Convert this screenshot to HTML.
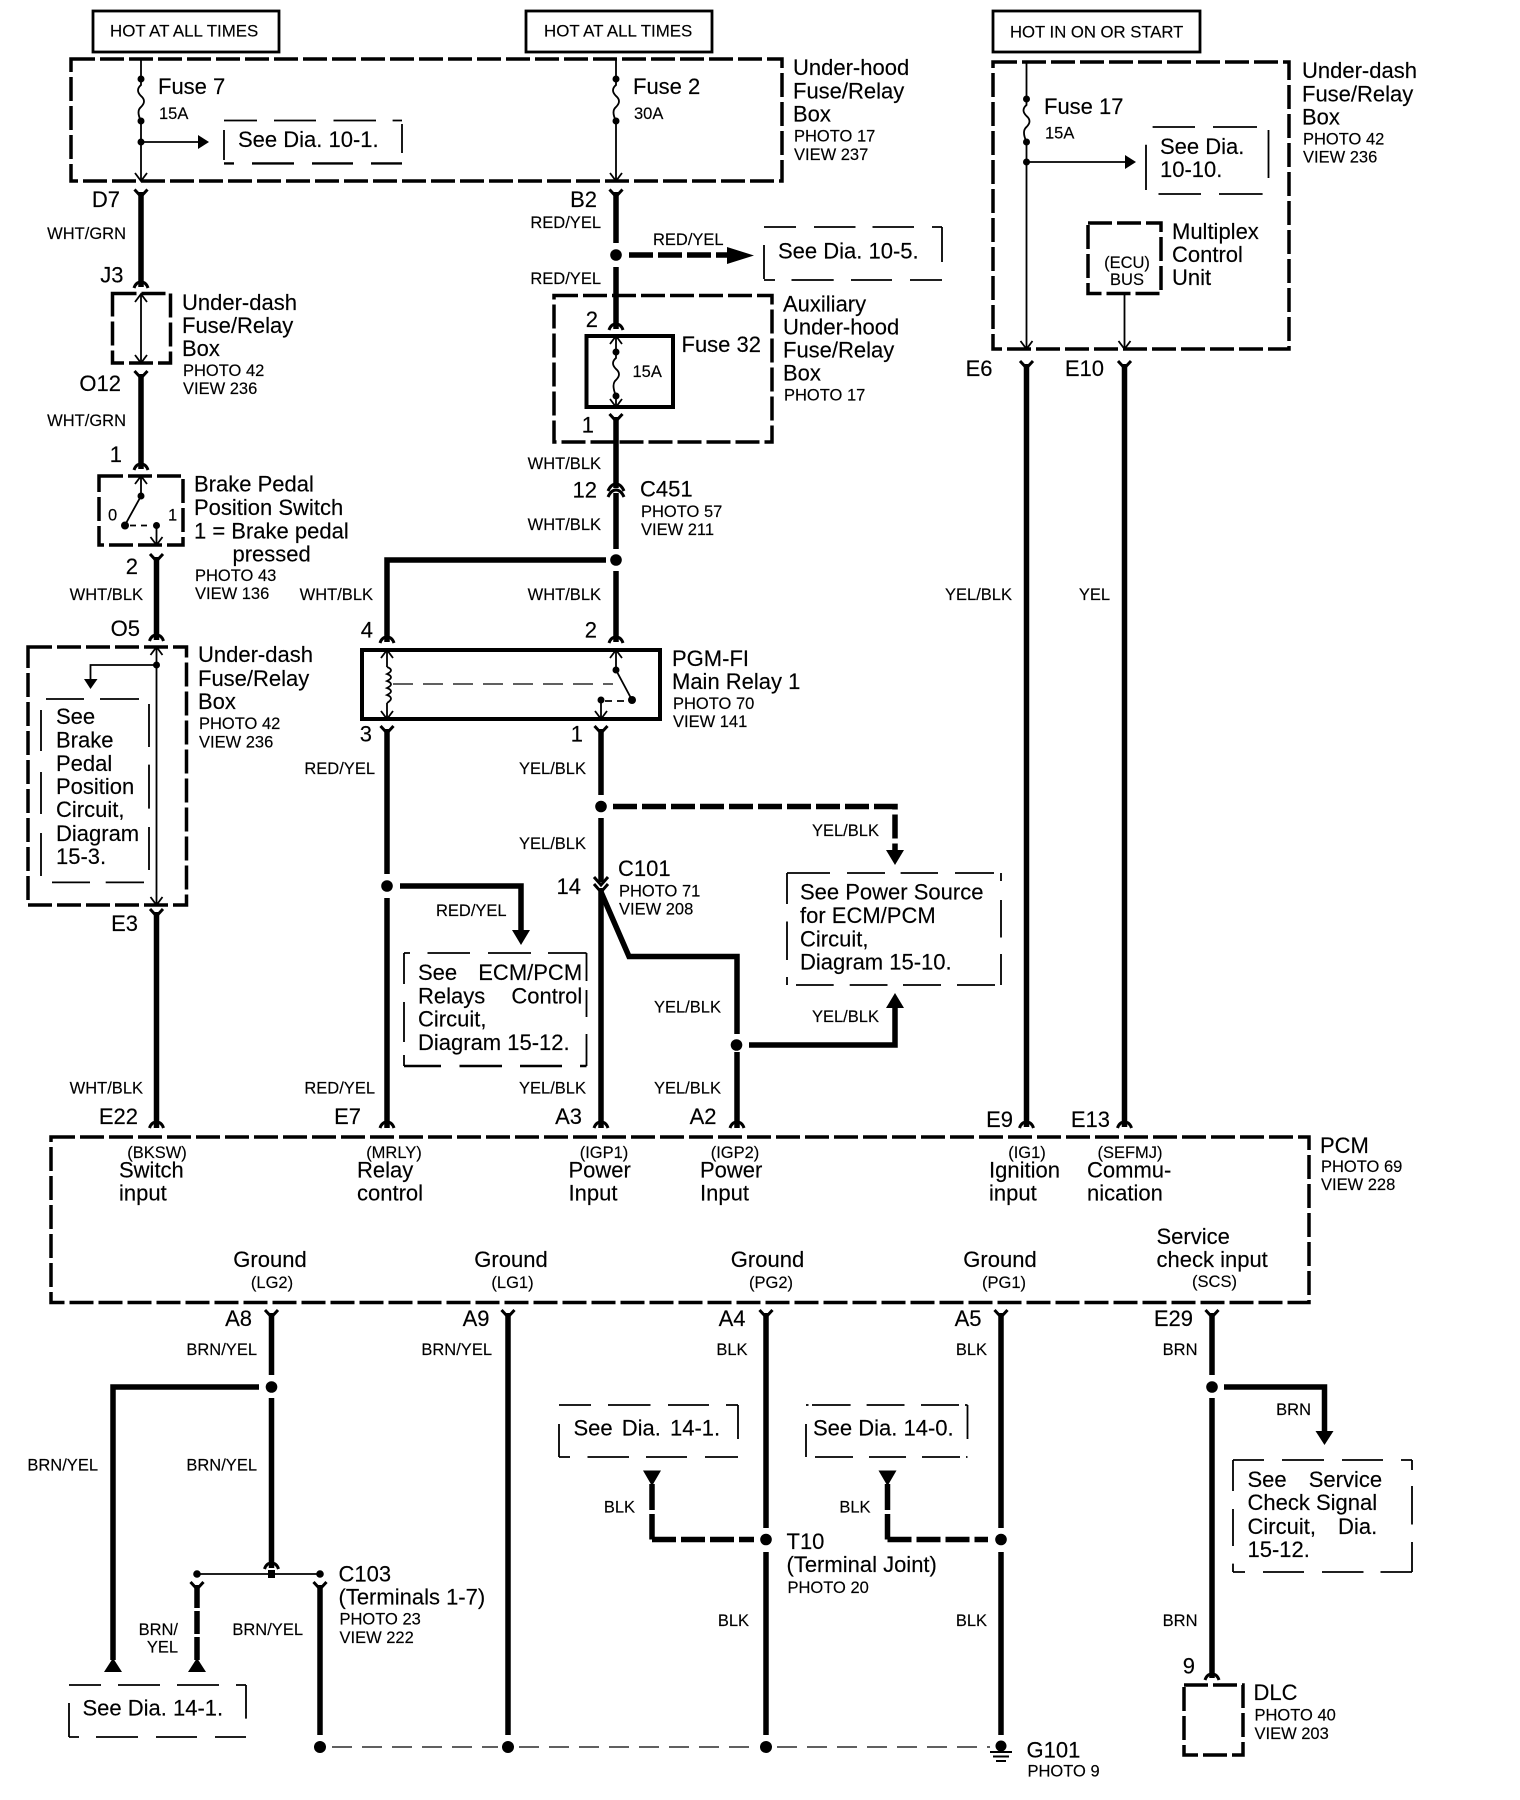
<!DOCTYPE html>
<html><head><meta charset="utf-8"><style>
html,body{margin:0;padding:0;background:#fff}
svg{display:block}
text{font-family:"Liberation Sans",sans-serif;fill:#000;stroke:#000;stroke-width:.15}
.b{font-size:22px}.s{font-size:16.5px}.r{text-anchor:end}.m{text-anchor:middle}
.b text:not(.r){transform:translate(-1px,-.8px)}
.w{fill:none;stroke:#000;stroke-width:5.5}
.t{fill:none;stroke:#000;stroke-width:1.8}
.k{fill:none;stroke:#000;stroke-width:3.5;stroke-dasharray:24 5}
.d{fill:none;stroke:#000;stroke-width:1.8}
.dk{fill:none;stroke:#000;stroke-width:2.4}
.h{fill:none;stroke:#000;stroke-width:5.5;stroke-dasharray:24 5}
.n{fill:none;stroke:#000;stroke-width:1.3;stroke-dasharray:20 10}
.c{fill:none;stroke:#000;stroke-width:3}
</style></head><body>
<svg width="1520" height="1800" viewBox="0 0 1520 1800" xmlns="http://www.w3.org/2000/svg">
<defs>
<path id="y" class="c" d="M-6.5 0L0 7L6.5 0"/>
<path id="a" class="c" d="M-7 6Q-5 0 0 0Q5 0 7 6"/>
<path id="ad" class="t" d="M-6 -8L0 0L6 -8"/>
<path id="au" class="t" d="M-6 8L0 0L6 8"/>
</defs>
<rect width="1520" height="1800" fill="#fff"/>

<!-- Top power boxes -->
<g fill="none" stroke="#000" stroke-width="2.8">
<rect x="93" y="11" width="186" height="41"/>
<rect x="526" y="11" width="186" height="41"/>
<rect x="993" y="11" width="207" height="41"/>
</g>
<text x="110" y="36.500" style="font-size:16.9px">HOT AT ALL TIMES</text>
<text x="544" y="36.500" style="font-size:16.9px">HOT AT ALL TIMES</text>
<text x="1010" y="37.500" style="font-size:16.7px">HOT IN ON OR START</text>

<!-- Dashed component boxes -->
<rect class="k" x="71" y="59" width="711" height="122"/>
<rect class="k" x="993" y="62" width="296" height="287"/>
<rect class="k" x="112.500" y="293.500" width="58" height="69.500"/>
<rect class="k" x="99" y="476" width="84" height="69"/>
<rect class="k" x="554" y="295.500" width="218" height="146.500"/>
<rect class="k" x="28" y="647" width="158.500" height="258"/>
<rect class="k" x="51" y="1137" width="1258" height="165.500"/>
<rect class="k" x="1088" y="223" width="73" height="70.500"/>
<rect class="k" x="1184" y="1685" width="59" height="70"/>

<!-- See boxes: explicit dash segments -->
<path class="d" d="M224 120.500H257M274 120.500H316M333.500 120.500H376M392.600 120.500H402M402 124V153M224 130V160"/>
<path class="dk" d="M224 163.400H234M252 163.400H294M312 163.400H353M371 163.400H402"/>

<path class="d" d="M764 227H796M814 227H855.500M872.500 227H914M932 227H942M942 227V262M764 245V279M764 280H775M791.500 280H833.700M851 280H892M910 280H942"/>

<path class="d" d="M1152.600 127H1195M1213 127H1257M1268.500 130V178M1158.500 194H1201M1219 194H1262.600M1146 144.700V190"/>

<path class="d" d="M46 699H84M100 699H139M149 704V747M149 764.600V808.600M149 827V870M52 882.400H90M105.700 882.400H144M41 710V751M41 772V814M41 833V876"/>

<path class="d" d="M404 953H410M427.500 953H470M488 953H531M548 953H586.500M586.500 953V981M586.500 990V1017M586.500 1034V1066M404 953V984M404 1002V1042M404 1055V1066"/>
<path class="dk" d="M404 1066H441M459.500 1066H502M520 1066H562M580 1066H586.500"/>

<path class="d" d="M787 873H793M791.500 873H830M847 873H885M900.600 873H938M955 873H994M1001 873V881M1001 900V937.500M1001 954V985M796 985H833.700M849.700 985H887.500M903 985H941M957 985H995M787 873V904M787 921.500V960M787 977V985"/>

<path class="d" d="M69 1685H101M118 1685H160M177 1685H219M236 1685H246M246 1685V1718.600M69 1737H79M96 1737H138M156 1737H197M215 1737H246M69 1703V1737"/>

<path class="d" d="M559 1405H591M608 1405H650.500M668 1405H709M726 1405H738M738 1405V1439M559 1457H570M587.500 1457H629M646 1457H687M705 1457H738M559 1424V1457"/>

<path class="d" d="M806 1405H808.500M812 1405H850.600M866.600 1405H904.500M921 1405H959M965 1405H967.500M967.500 1405V1439M815 1457H853M869 1457H906M922 1457H960M966 1457H967.500M806 1424V1457"/>

<path class="d" d="M1233 1460H1264M1282 1460H1324M1342 1460H1383M1401 1460H1412M1412 1460V1470M1412 1486V1524.500M1412 1542V1572M1233 1572H1245M1263 1572H1304M1322 1572H1363.500M1380.500 1572H1412M1233 1460V1491M1233 1509V1546M1233 1563.600V1572"/>

<!-- Solid boxes -->
<rect x="586.500" y="336" width="86.500" height="71" fill="none" stroke="#000" stroke-width="4"/>
<rect x="362" y="650" width="298" height="69" fill="none" stroke="#000" stroke-width="4"/>

<!-- Fuse 7 -->
<path class="t" d="M141 59V79M141 121V181M141 79v6q-6 5 0 11q6 5 0 11q-5 4 0 14M141 142H200"/>
<circle cx="141" cy="79" r="3.500"/><circle cx="141" cy="121" r="3.500"/><circle cx="141" cy="142" r="3.500"/>
<path d="M198 135L209 142L198 149Z"/>
<use href="#ad" x="141" y="181"/>
<!-- Fuse 2 -->
<path class="t" d="M616 59V79M616 121V181M616 79v6q-6 5 0 11q6 5 0 11q-5 4 0 14"/>
<circle cx="616" cy="79" r="3.500"/><circle cx="616" cy="121" r="3.500"/>
<use href="#ad" x="616" y="181"/>
<!-- Fuse 17 -->
<path class="t" d="M1026.500 62V99M1026.500 142V349M1026.500 99v6q-6 5 0 11q6 5 0 11q-5 4 0 15M1026.500 162H1128M1124.500 293.500V349"/>
<circle cx="1026.500" cy="99" r="3.500"/><circle cx="1026.500" cy="142" r="3.500"/><circle cx="1026.500" cy="162" r="3.500"/>
<path d="M1125 155L1136 162L1125 169Z"/>
<use href="#ad" x="1026.500" y="349"/><use href="#ad" x="1124.500" y="349"/>
<path class="w" d="M1026.500 364V1127M1124.500 364V1127"/>
<use href="#y" x="1026.500" y="361"/><use href="#y" x="1124.500" y="361"/>
<use href="#a" x="1026.500" y="1122"/><use href="#a" x="1124.500" y="1122"/>

<!-- Left column 141 -->
<use href="#y" x="141" y="189.500"/>
<path class="w" d="M141 192V287"/>
<use href="#a" x="141" y="282"/>
<path class="t" d="M141 294V363"/><use href="#au" x="141" y="294"/><use href="#ad" x="141" y="363"/>
<use href="#y" x="141" y="371"/>
<path class="w" d="M141 374V469"/>
<use href="#a" x="141" y="464"/>
<path class="t" d="M141 476V496L125 525"/>
<use href="#au" x="141" y="476"/>
<circle cx="141" cy="496" r="3.500"/><circle cx="125" cy="525.500" r="4"/><circle cx="156.500" cy="525.500" r="3.500"/>
<path class="t" d="M130 525.500H152" stroke-dasharray="6 5"/>
<path class="t" d="M156.500 525.500V545"/><use href="#ad" x="156.500" y="545"/>
<use href="#y" x="156.500" y="554"/>
<path class="w" d="M156.500 557V640"/>
<use href="#a" x="156.500" y="635"/>
<path class="t" d="M156.500 647V905M156.500 665H90.500V682"/>
<use href="#au" x="156.500" y="647"/><use href="#ad" x="156.500" y="905"/>
<circle cx="156.500" cy="665" r="3.500"/>
<path d="M84 679H97.500L90.500 689Z"/>
<use href="#y" x="156.500" y="909"/>
<path class="w" d="M156.500 912V1128"/>
<use href="#a" x="156.500" y="1122"/>

<!-- Wire 616 -->
<use href="#y" x="616" y="189.500"/>
<path class="w" d="M616 192V243M616 267V329"/>
<circle cx="616" cy="255" r="5.800"/>
<path class="h" d="M629 255H730"/>
<path d="M727 247L754 255.500L727 264Z"/>
<use href="#a" x="616" y="324"/>
<path class="t" d="M616 336V352M616 396V407M616 352v6q-6 5 0 11q6 5 0 11q-5 4 0 16"/>
<use href="#au" x="616" y="336"/><use href="#ad" x="616" y="407"/>
<circle cx="616" cy="352" r="3.500"/><circle cx="616" cy="396" r="3.500"/>
<use href="#y" x="616" y="414"/>
<path class="w" d="M616 417V488M616 493V549"/>
<path class="c" d="M608 491Q611 484 616 484Q621 484 624 491M608 497Q611 490 616 490Q621 490 624 497"/>
<circle cx="616" cy="560" r="5.800"/>
<path class="w" d="M606 560H387V642M616 571V642"/>
<use href="#a" x="387" y="637"/><use href="#a" x="616" y="637"/>

<!-- Relay internals -->
<path class="t" d="M387 650V667M387 703V719M387 667q8 3 0 7q8 3 0 7q8 3 0 7q8 3 0 7q8 3 0 8"/>
<use href="#au" x="387" y="650"/><use href="#ad" x="387" y="719"/>
<path class="n" d="M393 684H613"/>
<path class="t" d="M616 650V670L632 700"/>
<use href="#au" x="616" y="650"/>
<circle cx="616" cy="670" r="3.500"/><circle cx="632" cy="700" r="4"/><circle cx="601" cy="700" r="3.500"/>
<path class="t" d="M605 701H628" stroke-dasharray="7 5"/>
<path class="t" d="M601 700V719"/><use href="#ad" x="601" y="719"/>

<!-- Wire 387 -->
<use href="#y" x="387" y="726"/>
<path class="w" d="M387 729V874M387 898V1128"/>
<circle cx="387" cy="886" r="5.800"/>
<use href="#a" x="387" y="1122"/>
<path class="w" d="M400 886H521V932"/>
<path d="M512 930H530L521 945Z"/>

<!-- Wire 601 -->
<use href="#y" x="601" y="726"/>
<path class="w" d="M601 729V795M601 818V882M601 888V1128"/>
<circle cx="601" cy="806.500" r="5.800"/>
<path class="h" d="M613 806.500H895V852"/>
<path d="M886 850H904L895 865Z"/>
<path class="c" d="M594 877L601 885L608 877M594 884L601 892L608 884"/>
<use href="#a" x="601" y="1122"/>
<path class="w" d="M601 892L629 956.500H737V1034M737 1052V1128"/>
<circle cx="736.500" cy="1045" r="5.800"/>
<use href="#a" x="737" y="1122"/>
<path class="w" d="M749 1045H895V1006"/>
<path d="M886 1008H904L895 993Z"/>

<!-- Lower wires -->
<use href="#y" x="271.500" y="1310"/><use href="#y" x="508" y="1310"/><use href="#y" x="766" y="1310"/><use href="#y" x="1001" y="1310"/><use href="#y" x="1212" y="1310"/>
<path class="w" d="M271.500 1313V1375M271.500 1398V1568M508 1313V1735M766 1313V1528M766 1552V1735M1001 1313V1528M1001 1552V1735M1212 1313V1375M1212 1398V1678"/>
<circle cx="271.500" cy="1387" r="5.800"/><circle cx="766" cy="1539.500" r="5.800"/><circle cx="1001" cy="1539.500" r="5.800"/><circle cx="1212" cy="1387" r="5.800"/>
<path class="w" d="M259 1387H113V1660"/>
<path d="M104 1672H122L113 1658Z"/>
<use href="#a" x="271.500" y="1563"/>
<path class="t" d="M197 1574H320"/>
<circle cx="197" cy="1574" r="3.800"/><circle cx="320" cy="1574" r="3.800"/><rect x="268" y="1570" width="7" height="8"/>
<use href="#y" x="197" y="1582"/><use href="#y" x="320" y="1582"/>
<path class="w" d="M197 1585V1608M197 1611V1634M197 1637V1660M320 1585V1735"/>
<path d="M188 1672H206L197 1658Z"/>
<circle cx="320" cy="1747" r="6"/><circle cx="508" cy="1747" r="6"/><circle cx="766" cy="1747" r="6"/>
<path class="n" d="M332 1747H498M519 1747H756M777 1747H990"/>
<!-- Ground -->
<circle cx="1001" cy="1746" r="5.500"/>
<path d="M990 1752H1012" stroke="#000" stroke-width="2"/><path d="M993 1756.500H1009" stroke="#000" stroke-width="2"/><path d="M996 1761H1006" stroke="#000" stroke-width="2"/>
<!-- Branches to dia 14 -->
<path d="M643 1470.500H661L652 1486Z"/>
<path class="w" d="M652 1484V1510M652 1514V1539.500"/>
<path class="h" d="M652 1539.500H754"/>
<path d="M878.500 1470.500H896.500L887.500 1486Z"/>
<path class="w" d="M887.500 1484V1510M887.500 1514V1539.500"/>
<path class="h" d="M887.500 1539.500H988"/>
<!-- Service branch -->
<path class="w" d="M1224 1387H1324.500V1433"/>
<path d="M1315.500 1431H1333.500L1324.500 1445Z"/>
<use href="#a" x="1212" y="1674"/>

<!-- Text big -->
<g class="b">
<text class="r" x="120" y="207">D7</text>
<text class="r" x="597" y="207">B2</text>
<text class="r" x="123.500" y="282.500">J3</text>
<text class="r" x="121" y="391">O12</text>
<text class="r" x="122" y="462">1</text>
<text class="r" x="138" y="574">2</text>
<text class="r" x="140" y="636">O5</text>
<text class="r" x="598" y="327">2</text>
<text class="r" x="594" y="432.500">1</text>
<text class="r" x="597" y="497.500">12</text>
<text class="r" x="373" y="637.500">4</text>
<text class="r" x="597" y="637.500">2</text>
<text class="r" x="372" y="741.500">3</text>
<text class="r" x="583" y="741.500">1</text>
<text class="r" x="581" y="894">14</text>
<text class="r" x="138" y="931">E3</text>
<text class="r" x="138" y="1124">E22</text>
<text class="r" x="361" y="1124">E7</text>
<text class="r" x="582" y="1124">A3</text>
<text class="r" x="716.500" y="1124">A2</text>
<text class="r" x="1013" y="1127">E9</text>
<text class="r" x="1110" y="1127">E13</text>
<text class="r" x="992.500" y="376">E6</text>
<text class="r" x="1104" y="376">E10</text>
<text class="r" x="252" y="1326">A8</text>
<text class="r" x="489.500" y="1326">A9</text>
<text class="r" x="745.500" y="1326">A4</text>
<text class="r" x="981.500" y="1326">A5</text>
<text class="r" x="1193" y="1326">E29</text>
<text class="r" x="1195" y="1673.500">9</text>

<text x="159" y="95">Fuse 7</text>
<text x="634" y="95">Fuse 2</text>
<text x="1045" y="115">Fuse 17</text>
<text x="682.500" y="353">Fuse 32</text>
<text x="239" y="148">See Dia. 10-1.</text>
<text x="779" y="259.500">See Dia. 10-5.</text>
<text x="1161" y="155">See Dia.</text><text x="1161" y="178">10-10.</text>
<text x="794" y="76">Under-hood</text><text x="794" y="99.500">Fuse/Relay</text><text x="794" y="122.500">Box</text>
<text x="1303" y="79">Under-dash</text><text x="1303" y="102.500">Fuse/Relay</text><text x="1303" y="125.500">Box</text>
<text x="1173" y="240">Multiplex</text><text x="1173" y="263">Control</text><text x="1173" y="286">Unit</text>
<text x="183" y="311">Under-dash</text><text x="183" y="334">Fuse/Relay</text><text x="183" y="357">Box</text>
<text x="784" y="312.500">Auxiliary</text><text x="784" y="335.500">Under-hood</text><text x="784" y="358.500">Fuse/Relay</text><text x="784" y="381.500">Box</text>
<text x="641" y="497.500">C451</text>
<text x="195" y="492.500">Brake Pedal</text><text x="195" y="516">Position Switch</text><text x="195" y="539.500">1 = Brake pedal</text><text x="233.500" y="562.500">pressed</text>
<text x="199" y="663">Under-dash</text><text x="199" y="687">Fuse/Relay</text><text x="199" y="710">Box</text>
<text x="673" y="667">PGM-FI</text><text x="673" y="690">Main Relay 1</text>
<text x="57" y="725">See</text><text x="57" y="748.500">Brake</text><text x="57" y="772">Pedal</text><text x="57" y="795">Position</text><text x="57" y="818">Circuit,</text><text x="57" y="842">Diagram</text><text x="57" y="865">15-3.</text>
<text x="619" y="877">C101</text>
<text x="801" y="900.500">See Power Source</text><text x="801" y="924">for ECM/PCM</text><text x="801" y="947.500">Circuit,</text><text x="801" y="970.500">Diagram 15-10.</text>
<text x="419" y="981" word-spacing="15">See ECM/PCM</text><text x="419" y="1004.500" word-spacing="20">Relays Control</text><text x="419" y="1027.500">Circuit,</text><text x="419" y="1051">Diagram 15-12.</text>
<text x="1321" y="1154">PCM</text>
<text x="120" y="1178.500">Switch</text><text x="120" y="1201.500">input</text>
<text x="358" y="1178.500">Relay</text><text x="358" y="1201.500">control</text>
<text x="569.500" y="1178.500">Power</text><text x="569.500" y="1201.500">Input</text>
<text x="701" y="1178.500">Power</text><text x="701" y="1201.500">Input</text>
<text x="990" y="1178.500">Ignition</text><text x="990" y="1201.500">input</text>
<text x="1088" y="1178.500">Commu-</text><text x="1088" y="1201.500">nication</text>
<text class="m" x="271" y="1268">Ground</text><text class="m" x="512" y="1268">Ground</text><text class="m" x="768.500" y="1268">Ground</text><text class="m" x="1001" y="1268">Ground</text>
<text x="1157.500" y="1245">Service</text><text x="1157.500" y="1268">check input</text>
<text x="574.500" y="1436.500" word-spacing="3">See Dia. 14-1.</text>
<text x="814" y="1436.500">See Dia. 14-0.</text>
<text x="83.500" y="1716.500">See Dia. 14-1.</text>
<text x="787.500" y="1550">T10</text><text x="787.500" y="1573">(Terminal Joint)</text>
<text x="339.500" y="1582.500">C103</text><text x="339.500" y="1605.500">(Terminals 1-7)</text>
<text x="1248.500" y="1488" word-spacing="16">See Service</text><text x="1248.500" y="1511">Check Signal</text><text x="1248.500" y="1535" word-spacing="16">Circuit, Dia.</text><text x="1248.500" y="1558">15-12.</text>
<text x="1254.500" y="1701">DLC</text>
<text x="1027.500" y="1758.500">G101</text>
</g>

<!-- Text small -->
<g class="s">
<text x="159" y="119">15A</text><text x="634" y="119">30A</text><text x="1045" y="138.500">15A</text><text x="632.500" y="377">15A</text>
<text x="794" y="141.500">PHOTO 17</text><text x="794" y="160">VIEW 237</text>
<text x="1303" y="144.500">PHOTO 42</text><text x="1303" y="162.500">VIEW 236</text>
<text x="183" y="376">PHOTO 42</text><text x="183" y="394">VIEW 236</text>
<text x="784" y="400.500">PHOTO 17</text>
<text x="641" y="517">PHOTO 57</text><text x="641" y="535">VIEW 211</text>
<text x="195" y="581">PHOTO 43</text><text x="195" y="599">VIEW 136</text>
<text x="199" y="729">PHOTO 42</text><text x="199" y="747.500">VIEW 236</text>
<text x="673" y="709">PHOTO 70</text><text x="673" y="727">VIEW 141</text>
<text x="619" y="896.500">PHOTO 71</text><text x="619" y="914.500">VIEW 208</text>
<text x="1321" y="1172">PHOTO 69</text><text x="1321" y="1190">VIEW 228</text>
<text x="339.500" y="1624.500">PHOTO 23</text><text x="339.500" y="1643">VIEW 222</text>
<text x="787.500" y="1593">PHOTO 20</text>
<text x="1254.500" y="1720.500">PHOTO 40</text><text x="1254.500" y="1739">VIEW 203</text>
<text x="1027.500" y="1776.500">PHOTO 9</text>
<text class="m" x="1127" y="268">(ECU)</text><text class="m" x="1127" y="285">BUS</text>
<text x="108" y="520.500">0</text><text x="168" y="520.500">1</text>

<text class="r" x="126" y="239">WHT/GRN</text>
<text class="r" x="126" y="426">WHT/GRN</text>
<text class="r" x="601" y="228">RED/YEL</text>
<text x="653" y="245">RED/YEL</text>
<text class="r" x="601" y="284">RED/YEL</text>
<text class="r" x="601" y="469">WHT/BLK</text>
<text class="r" x="601" y="530">WHT/BLK</text>
<text class="r" x="601" y="600">WHT/BLK</text>
<text class="r" x="373" y="600">WHT/BLK</text>
<text class="r" x="143" y="600">WHT/BLK</text>
<text class="r" x="1012" y="600">YEL/BLK</text>
<text class="r" x="1110" y="600">YEL</text>
<text class="r" x="375" y="774">RED/YEL</text>
<text class="r" x="586" y="774">YEL/BLK</text>
<text class="r" x="586" y="849">YEL/BLK</text>
<text x="812" y="836">YEL/BLK</text>
<text x="436" y="916">RED/YEL</text>
<text x="654" y="1012.500">YEL/BLK</text>
<text x="812" y="1022">YEL/BLK</text>
<text class="r" x="143" y="1093.500">WHT/BLK</text>
<text class="r" x="375" y="1093.500">RED/YEL</text>
<text class="r" x="586" y="1093.500">YEL/BLK</text>
<text x="654" y="1093.500">YEL/BLK</text>

<text class="m" x="157" y="1158">(BKSW)</text>
<text class="m" x="394" y="1158">(MRLY)</text>
<text class="m" x="604" y="1158">(IGP1)</text>
<text class="m" x="735" y="1158">(IGP2)</text>
<text class="m" x="1027" y="1158">(IG1)</text>
<text class="m" x="1130" y="1158">(SEFMJ)</text>
<text class="m" x="272" y="1288">(LG2)</text>
<text class="m" x="512.500" y="1288">(LG1)</text>
<text class="m" x="771" y="1288">(PG2)</text>
<text class="m" x="1004" y="1288">(PG1)</text>
<text class="m" x="1214.500" y="1287">(SCS)</text>

<text class="r" x="257" y="1355">BRN/YEL</text>
<text class="r" x="492" y="1355">BRN/YEL</text>
<text class="r" x="747.500" y="1355">BLK</text>
<text class="r" x="987" y="1355">BLK</text>
<text class="r" x="1197.500" y="1355">BRN</text>
<text class="r" x="1311" y="1415">BRN</text>
<text class="r" x="98" y="1470.500">BRN/YEL</text>
<text class="r" x="257" y="1470.500">BRN/YEL</text>
<text class="r" x="635" y="1512.500">BLK</text>
<text class="r" x="870.500" y="1512.500">BLK</text>
<text class="r" x="749" y="1626">BLK</text>
<text class="r" x="987" y="1626">BLK</text>
<text class="r" x="1197.500" y="1626">BRN</text>
<text class="r" x="178" y="1635">BRN/</text><text class="r" x="178" y="1652.500">YEL</text>
<text class="r" x="303" y="1635">BRN/YEL</text>
</g>
</svg>
</body></html>
